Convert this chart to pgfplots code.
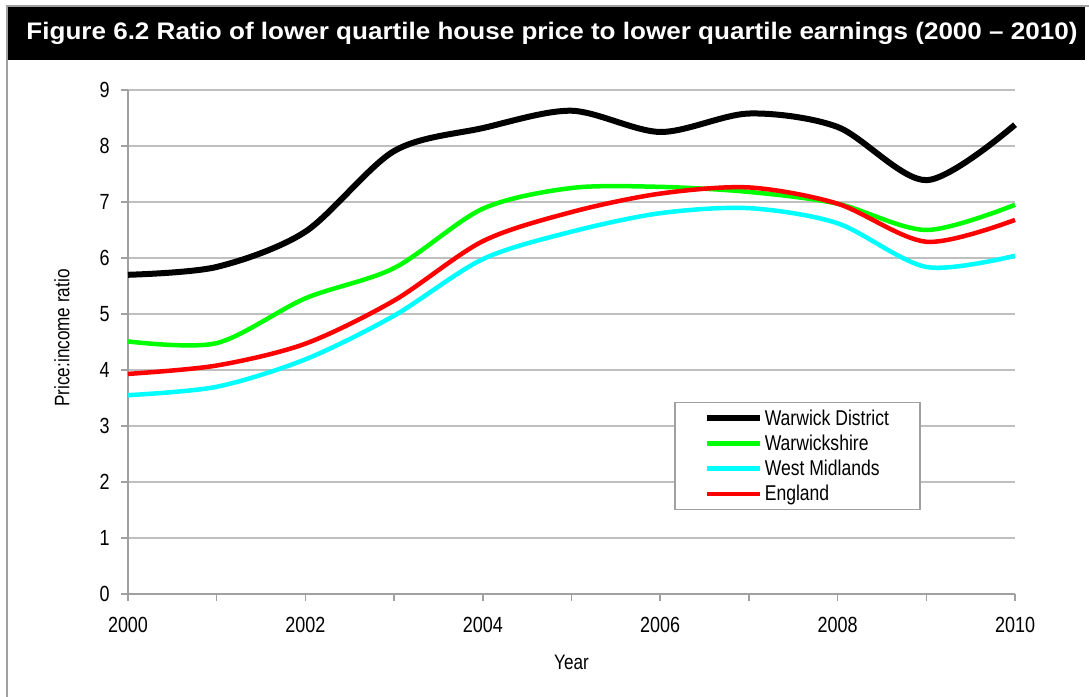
\documentclass[border=0pt]{standalone}
\usepackage{pgfplots}
\pgfplotsset{compat=1.18}
\usepackage{fontspec}
\setmainfont{Liberation Sans}[FakeStretch=0.82]
\usepackage{graphicx}
\definecolor{gridgray}{RGB}{191,191,191}
\definecolor{axgray}{RGB}{160,160,160}
\definecolor{xlgreen}{RGB}{0,255,0}
\definecolor{xlcyan}{RGB}{0,255,255}
\definecolor{xlred}{RGB}{255,0,0}
\begin{document}
\begin{tikzpicture}[x=1bp,y=1bp]
\path[use as bounding box] (0,0) rectangle (1089,697);
\fill[black] (8,637) rectangle (1085,690);
\draw[axgray, line width=1.5bp] (7,0) -- (7,691) -- (1089,691);
\node[white, font=\bfseries\fontsize{24}{28}\selectfont, anchor=center] at (552,664)
  {\resizebox{1051bp}{\height}{Figure 6.2 Ratio of lower quartile house price to lower quartile earnings (2000 – 2010)}};
\begin{axis}[
  at={(128bp,103bp)}, anchor=south west,
  width=887bp, height=504bp, scale only axis,
  xmin=2000, xmax=2010, ymin=0, ymax=9,
  clip=false,
  axis x line*=bottom, axis y line*=left,
  axis line style={axgray, line width=1.5bp},
  xtick={2000,2001,...,2010},
  xticklabels={2000,,2002,,2004,,2006,,2008,,2010},
  ytick={0,1,...,9},
  tick align=outside,
  major tick length=7bp,
  tick style={axgray, line width=1.5bp},
  ymajorgrids,
  grid style={gridgray, line width=1.5bp},
  /pgf/number format/assume math mode=true,
  tick label style={font=\fontsize{22}{25}\selectfont, text=black},
  xticklabel style={yshift=-13bp},
  yticklabel style={xshift=-8bp},
  every axis x label/.style={at={(axis description cs:0.5,-0.135)}, anchor=center, font=\fontsize{21}{24}\selectfont},
  every axis y label/.style={at={(axis description cs:-0.0744,0.508)}, anchor=center, rotate=90, font=\fontsize{21}{24}\selectfont},
  xlabel={Year},
  ylabel={Price:income ratio},
  legend cell align=left,
  legend image code/.code={\draw[#1] (0bp,0bp) -- (53bp,0bp);},
  legend style={at={(rel axis cs:0.6156,0.381)}, anchor=north west,
    draw=axgray, line width=1.5bp, font=\fontsize{21.5}{24}\selectfont,
    inner xsep=29bp, inner ysep=5bp, row sep=4.2bp},
]
\addplot[black, line width=6bp, smooth, tension=0.5] coordinates {
(2000,5.70) (2001,5.84) (2002,6.47) (2003,7.91) (2004,8.32) (2005,8.63)
(2006,8.25) (2007,8.58) (2008,8.34) (2009,7.39) (2010,8.38)};
\addlegendentry{Warwick District}
\addplot[xlgreen, line width=4.5bp, smooth, tension=0.5] coordinates {
(2000,4.51) (2001,4.48) (2002,5.28) (2003,5.82) (2004,6.88) (2005,7.25)
(2006,7.27) (2007,7.18) (2008,6.97) (2009,6.50) (2010,6.95)};
\addlegendentry{Warwickshire}
\addplot[xlcyan, line width=4.5bp, smooth, tension=0.5] coordinates {
(2000,3.55) (2001,3.70) (2002,4.19) (2003,4.97) (2004,5.98) (2005,6.47)
(2006,6.80) (2007,6.89) (2008,6.62) (2009,5.84) (2010,6.04)};
\addlegendentry{West Midlands}
\addplot[xlred, line width=4.5bp, smooth, tension=0.5] coordinates {
(2000,3.93) (2001,4.08) (2002,4.47) (2003,5.24) (2004,6.30) (2005,6.82)
(2006,7.15) (2007,7.26) (2008,6.97) (2009,6.29) (2010,6.68)};
\addlegendentry{England}
\end{axis}
\end{tikzpicture}
\end{document}
